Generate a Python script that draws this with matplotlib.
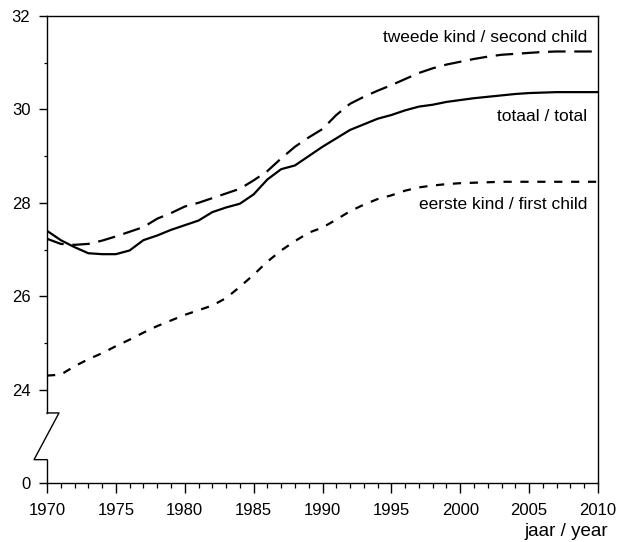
import numpy as np
import matplotlib
matplotlib.use('Agg')
import matplotlib.pyplot as plt
from matplotlib.ticker import MultipleLocator

plt.rcParams['font.family'] = ['Liberation Sans', 'DejaVu Sans']

# ── Data ──────────────────────────────────────────────────────────────────────
years = list(range(1970, 2011))

totaal = [27.40, 27.20, 27.05, 26.92, 26.90, 26.90, 26.98, 27.20, 27.30, 27.42,
          27.52, 27.62, 27.80, 27.90, 27.98, 28.18, 28.50, 28.72, 28.80, 29.00,
          29.20, 29.38, 29.56, 29.68, 29.80, 29.88, 29.98, 30.06, 30.10, 30.16,
          30.20, 30.24, 30.27, 30.30, 30.33, 30.35, 30.36, 30.37, 30.37, 30.37,
          30.37]

tweede = [27.23, 27.12, 27.10, 27.12, 27.19, 27.28, 27.38, 27.48, 27.66, 27.78,
          27.92, 28.00, 28.10, 28.20, 28.30, 28.48, 28.68, 28.95, 29.20, 29.40,
          29.58, 29.88, 30.12, 30.27, 30.40, 30.52, 30.65, 30.78, 30.88, 30.96,
          31.02, 31.08, 31.13, 31.17, 31.19, 31.21, 31.23, 31.24, 31.24, 31.24,
          31.24]

eerste = [24.30, 24.32, 24.50, 24.65, 24.78, 24.93, 25.07, 25.22, 25.36, 25.48,
          25.60, 25.70, 25.80, 25.96, 26.20, 26.46, 26.74, 26.98, 27.18, 27.36,
          27.47, 27.64, 27.82, 27.96, 28.08, 28.16, 28.26, 28.33, 28.37, 28.40,
          28.42, 28.43, 28.44, 28.45, 28.45, 28.45, 28.45, 28.45, 28.45, 28.45,
          28.45]

ytick_vals   = [22, 24, 26, 28, 30, 32]      # 22 stands in for the broken-axis 0
ytick_labels = ['0', '24', '26', '28', '30', '32']
xtick_vals   = list(range(1970, 2011, 5))

labels = {
    'tweede': 'tweede kind / second child',
    'totaal': 'totaal / total',
    'eerste': 'eerste kind / first child',
}

# ── Figure ───────────────────────────────────────────────────────────────────
fig = plt.figure(figsize=(6.2, 5.42), dpi=100)
ax = fig.add_axes([47 / 620, 1 - 483 / 542, (598 - 47) / 620, (483 - 16) / 542])

LW = 1.6
ax.plot(years, totaal, color='black', lw=LW, solid_capstyle='butt')
ax.plot(years, tweede, color='black', lw=LW, dashes=(7.9, 3.9))
ax.plot(years, eerste, color='black', lw=LW, dashes=(3.7, 3.9))

ax.set_xlim(1970, 2010)
ax.set_ylim(22, 32)

ax.set_xticks(xtick_vals)
ax.xaxis.set_minor_locator(MultipleLocator(1))
ax.set_yticks(ytick_vals)
ax.set_yticklabels(ytick_labels)
ax.set_yticks([25, 27, 29, 31], minor=True)

ax.tick_params(axis='both', which='major', direction='out', width=1,
               labelsize=12, colors='black')
ax.tick_params(axis='y', which='major', length=6, pad=6)
ax.tick_params(axis='x', which='major', length=7.5, pad=7)
ax.tick_params(axis='x', which='minor', direction='out', length=3.5, width=0.9)
ax.tick_params(axis='y', which='minor', direction='out', length=2, width=0.9)

for s in ['top', 'right', 'bottom', 'left']:
    ax.spines[s].set_linewidth(1.0)

# broken left axis: spine only above the break, zigzag drawn by hand
ax.spines['left'].set_bounds(23.5, 32)
ax.plot([1970, 1970], [22, 22.5], color='black', lw=1.0, clip_on=False)
ax.plot([1970, 1970.87, 1969.06, 1970], [23.5, 23.5, 22.5, 22.5],
        color='black', lw=1.0, clip_on=False)

# series labels
ax.text(2009.2, 31.55, labels['tweede'], ha='right', va='center', fontsize=12.5)
ax.text(2009.2, 29.84, labels['totaal'], ha='right', va='center', fontsize=12.5)
ax.text(2009.2, 27.96, labels['eerste'], ha='right', va='center', fontsize=12.5)

fig.text(608 / 620, 1 - 532 / 542, 'jaar / year', ha='right', va='center',
         fontsize=13.5)

fig.savefig('out.png', dpi=100)
